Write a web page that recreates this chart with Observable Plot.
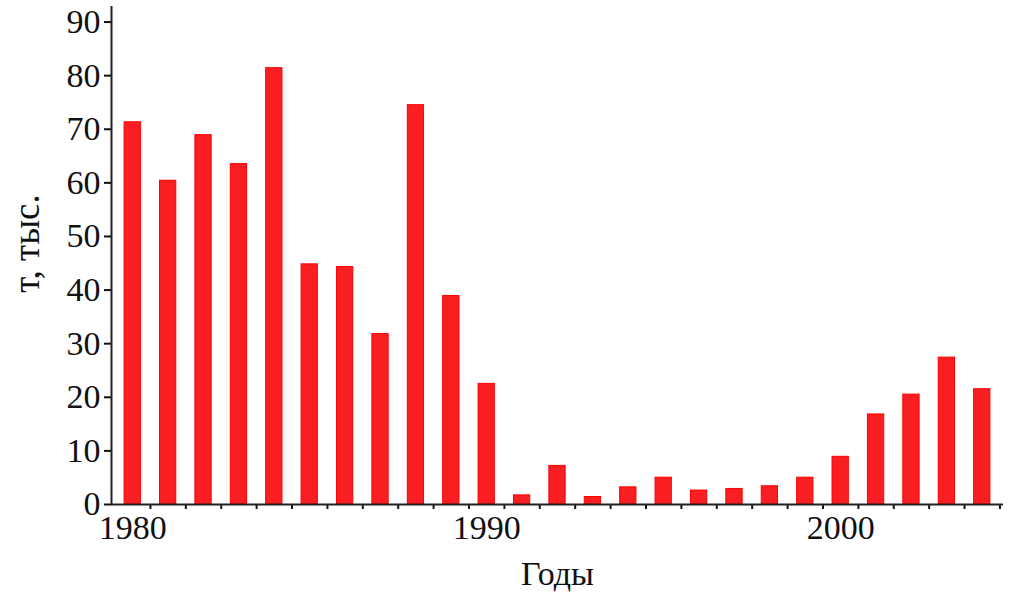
<!DOCTYPE html>
<html>
<head>
<meta charset="utf-8">
<script src="https://cdn.jsdelivr.net/npm/d3@7"></script>
<script src="https://cdn.jsdelivr.net/npm/@observablehq/plot@0.6"></script>
<style>
  html, body { margin: 0; padding: 0; background: #fff; }
  #chart { width: 1018px; height: 594px; }
</style>
</head>
<body>
<div id="chart"></div>
<script>
const years = [1980,1981,1982,1983,1984,1985,1986,1987,1988,1989,1990,1991,1992,1993,1994,1995,1996,1997,1998,1999,2000,2001,2002,2003,2004];
const values = [71.3,60.4,68.9,63.5,81.4,44.8,44.3,31.8,74.5,38.9,22.5,1.7,7.2,1.4,3.2,5.0,2.6,2.9,3.4,5.0,8.9,16.8,20.5,27.4,21.5];
const yTicks = [0,10,20,30,40,50,60,70,80,90];
const xLabelTicks = [1980,1990,2000];
const xMinorTicks = d3.range(1980.5, 2005, 1);
const yLabel = "т, тыс.";
const xLabel = "Годы";

const data = years.map((year, i) => ({year, value: values[i]}));
const halfW = 0.23;
const font = "'Liberation Serif', 'Times New Roman', serif";
const fs = 34;

const chart = Plot.plot({
  width: 1018,
  height: 594,
  marginLeft: 111,
  marginRight: 15,
  marginTop: 6,
  marginBottom: 90,
  style: {fontFamily: font, fontSize: fs + "px", color: "#111", background: "#fff"},
  x: {domain: [1979.4, 2004.6]},
  y: {domain: [0, 92.9]},
  marks: [
    Plot.rectY(data, {
      x1: d => d.year - halfW,
      x2: d => d.year + halfW,
      y: "value",
      fill: "#f81e22",
      stroke: "#ff0000",
      strokeWidth: 1
    }),
    Plot.axisY({ticks: yTicks, tickSize: 7, tickPadding: 4, tickFormat: d => String(d), label: null, strokeWidth: 2, fontSize: fs}),
    Plot.axisX({ticks: xMinorTicks, tickSize: 5, tickFormat: () => "", label: null, strokeWidth: 2}),
    Plot.axisX({ticks: xLabelTicks, tickSize: 0, tickPadding: 10, tickFormat: d => String(d), label: null, fontSize: fs}),
    Plot.ruleY([0], {stroke: "#222", strokeWidth: 2}),
    Plot.ruleX([1979.4], {stroke: "#222", strokeWidth: 2}),
    Plot.text([xLabel], {frameAnchor: "bottom", dy: 80, fontSize: fs, fill: "#111"}),
    Plot.text([yLabel], {frameAnchor: "left", textAnchor: "middle", rotate: -90, dx: -84, dy: -12, fontSize: 37, fill: "#111"})
  ]
});
document.getElementById("chart").appendChild(chart);
</script>
</body>
</html>
